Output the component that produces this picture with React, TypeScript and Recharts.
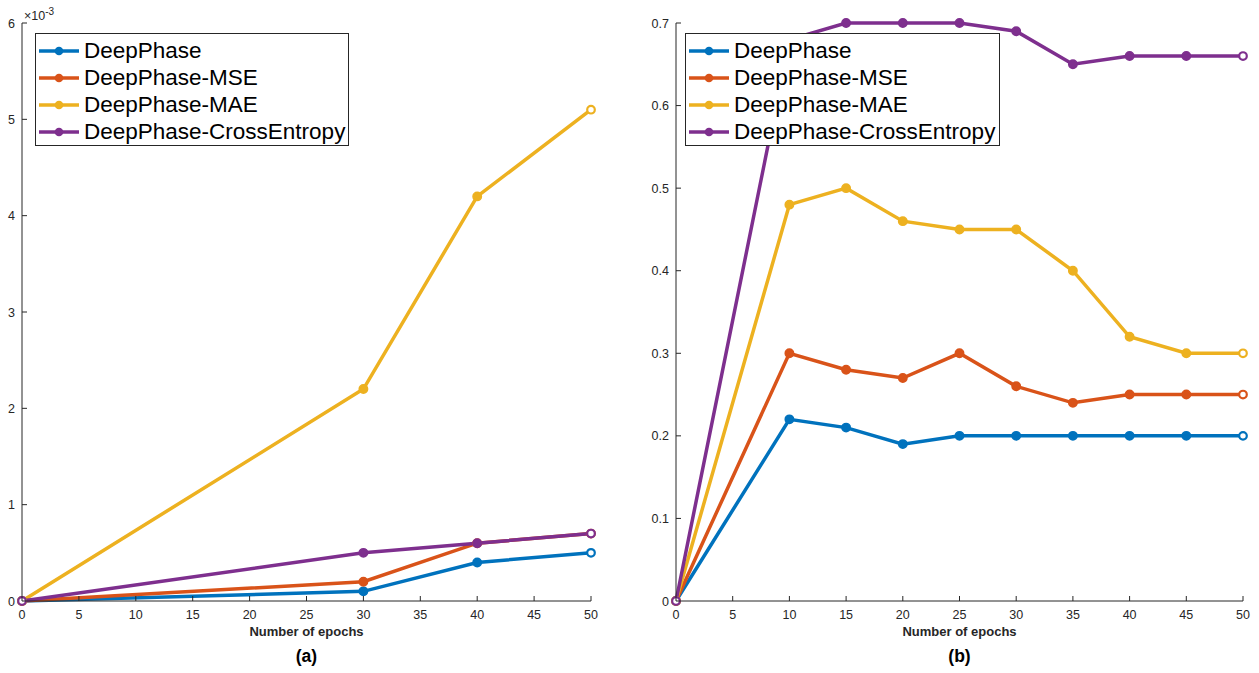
import { Legend, Line, LineChart, XAxis, YAxis } from "recharts"

const seriesNames = ["DeepPhase", "DeepPhase-MSE", "DeepPhase-MAE", "DeepPhase-CrossEntropy"]
const colors = ["#0072BD", "#D95319", "#EDB120", "#7E2F8E"]

// panel (a)
const epochsA = [0, 30, 40, 50]
const deepPhaseA = [0, 0.0001, 0.0004, 0.0005]
const mseA = [0, 0.0002, 0.0006, 0.0007]
const maeA = [0, 0.0022, 0.0042, 0.0051]
const crossEntropyA = [0, 0.0005, 0.0006, 0.0007]

// panel (b)
const epochsB = [0, 10, 15, 20, 25, 30, 35, 40, 45, 50]
const deepPhaseB = [0, 0.22, 0.21, 0.19, 0.2, 0.2, 0.2, 0.2, 0.2, 0.2]
const mseB = [0, 0.3, 0.28, 0.27, 0.3, 0.26, 0.24, 0.25, 0.25, 0.25]
const maeB = [0, 0.48, 0.5, 0.46, 0.45, 0.45, 0.4, 0.32, 0.3, 0.3]
const crossEntropyB = [0, 0.68, 0.7, 0.7, 0.7, 0.69, 0.65, 0.66, 0.66, 0.66]

const xTicks = [0, 5, 10, 15, 20, 25, 30, 35, 40, 45, 50]
const yTicksA = [0, 0.001, 0.002, 0.003, 0.004, 0.005, 0.006]
const yTicksB = [0, 0.1, 0.2, 0.3, 0.4, 0.5, 0.6, 0.7]

const font = '"Liberation Sans", Arial, sans-serif'
const axisColor = "#262626"
const tickLen = 5

const buildRows = (epochs: number[], series: number[][]) =>
  epochs.map((e, i) => {
    const row: Record<string, number> = { epoch: e }
    series.forEach((s, k) => (row["s" + k] = s[i]))
    return row
  })

const dataA = buildRows(epochsA, [deepPhaseA, mseA, maeA, crossEntropyA])
const dataB = buildRows(epochsB, [deepPhaseB, mseB, maeB, crossEntropyB])

const makeTick =
  (side: "bottom" | "top" | "left" | "right", fmt?: (v: number) => string) =>
  (props: any) => {
    const { x, y, payload } = props
    if (side === "bottom")
      return (
        <g>
          <line x1={x} y1={y} x2={x} y2={y - tickLen} stroke={axisColor} />
          <text x={x} y={y + 18} textAnchor="middle" fontSize={12.5} fontFamily={font} fill={axisColor}>
            {fmt ? fmt(payload.value) : payload.value}
          </text>
        </g>
      )
    if (side === "top") return <line x1={x} y1={y} x2={x} y2={y + tickLen} stroke={axisColor} />
    if (side === "left")
      return (
        <g>
          <line x1={x} y1={y} x2={x + tickLen} y2={y} stroke={axisColor} />
          <text x={x - 7} y={y + 4.5} textAnchor="end" fontSize={12.5} fontFamily={font} fill={axisColor}>
            {fmt ? fmt(payload.value) : payload.value}
          </text>
        </g>
      )
    return <line x1={x} y1={y} x2={x - tickLen} y2={y} stroke={axisColor} />
  }

const makeDot = (color: string, last: number) => (props: any) => {
  const { cx, cy, index } = props
  const hollow = index === 0 || index === last
  return (
    <circle
      key={`dot-${index}`}
      cx={cx}
      cy={cy}
      r={hollow ? 3.8 : 4.2}
      fill={hollow ? "#fff" : color}
      stroke={color}
      strokeWidth={hollow ? 2.2 : 1.5}
    />
  )
}

function LegendBox({ width }: { width: number }) {
  return (
    <div
      style={{
        boxSizing: "border-box",
        width,
        background: "#fff",
        border: `1px solid ${axisColor}`,
        padding: "3px 0 0 2px",
        fontFamily: font,
        fontSize: 22.5,
        color: "#000",
      }}
    >
      {seriesNames.map((n, i) => (
        <div key={n} style={{ display: "flex", alignItems: "center", height: 27, whiteSpace: "nowrap" }}>
          <svg width={42} height={12} style={{ flex: "none" }}>
            <line x1={1} y1={6} x2={41} y2={6} stroke={colors[i]} strokeWidth={3.5} />
            <circle cx={21} cy={6} r={4.3} fill={colors[i]} />
          </svg>
          <span style={{ marginLeft: 4, lineHeight: "27px" }}>{n}</span>
        </div>
      ))}
    </div>
  )
}

type PanelProps = {
  left: number
  width: number
  yAxisWidth: number
  marginRight: number
  data: Record<string, number>[]
  yTicks: number[]
  yMax: number
  yFmt: (v: number) => string
  caption: string
  legendLeft: number
  legendWidth: number
  children?: any
}

function Panel(p: PanelProps) {
  const last = p.data.length - 1
  const plotLeft = p.yAxisWidth
  const plotRight = p.width - p.marginRight
  const center = (plotLeft + plotRight) / 2
  return (
    <div style={{ position: "absolute", left: p.left, top: 0, width: p.width, height: 673 }}>
      <LineChart width={p.width} height={673} data={p.data} margin={{ top: 23, right: p.marginRight, bottom: 0, left: 0 }}>
        <XAxis
          xAxisId="bottom"
          dataKey="epoch"
          type="number"
          domain={[0, 50]}
          ticks={xTicks}
          interval={0}
          height={72}
          tickSize={0}
          tickMargin={0}
          tickLine={false}
          axisLine={{ stroke: axisColor }}
          tick={makeTick("bottom")}
        />
        <XAxis
          xAxisId="top"
          orientation="top"
          dataKey="epoch"
          type="number"
          domain={[0, 50]}
          ticks={xTicks}
          interval={0}
          height={0}
          tickSize={0}
          tickMargin={0}
          tickLine={false}
          axisLine={{ stroke: axisColor }}
          tick={makeTick("top")}
        />
        <YAxis
          yAxisId="left"
          type="number"
          domain={[0, p.yMax]}
          ticks={p.yTicks}
          interval={0}
          width={p.yAxisWidth}
          tickSize={0}
          tickMargin={0}
          tickLine={false}
          axisLine={{ stroke: axisColor }}
          tick={makeTick("left", p.yFmt)}
        />
        <YAxis
          yAxisId="right"
          orientation="right"
          type="number"
          domain={[0, p.yMax]}
          ticks={p.yTicks}
          interval={0}
          width={0}
          tickSize={0}
          tickMargin={0}
          tickLine={false}
          axisLine={{ stroke: axisColor }}
          tick={makeTick("right")}
        />
        {colors.map((c, k) => (
          <Line
            key={k}
            xAxisId="bottom"
            yAxisId="left"
            dataKey={"s" + k}
            name={seriesNames[k]}
            stroke={c}
            strokeWidth={3.5}
            dot={makeDot(c, last)}
            activeDot={false}
            isAnimationActive={false}
          />
        ))}
        <Legend
          layout="vertical"
          align="center"
          verticalAlign="middle"
          wrapperStyle={{ left: p.legendLeft, top: 33, width: p.legendWidth }}
          content={() => <LegendBox width={p.legendWidth} />}
        />
      </LineChart>
      <div
        style={{
          position: "absolute",
          left: center - 100,
          width: 200,
          top: 624,
          textAlign: "center",
          fontFamily: font,
          fontWeight: "bold",
          fontSize: 13,
          color: axisColor,
        }}
      >
        Number of epochs
      </div>
      <div
        style={{
          position: "absolute",
          left: center - 50,
          width: 100,
          top: 646,
          textAlign: "center",
          fontFamily: font,
          fontWeight: "bold",
          fontSize: 17.5,
          color: "#000",
        }}
      >
        {p.caption}
      </div>
      {p.children}
    </div>
  )
}

export default function App() {
  return (
    <div style={{ position: "absolute", left: 0, top: 0, width: 1259, height: 673, background: "#fff" }}>
      <Panel
        left={0}
        width={620}
        yAxisWidth={22}
        marginRight={29}
        data={dataA}
        yTicks={yTicksA}
        yMax={0.006}
        yFmt={(v) => String(Math.round(v * 1000))}
        caption="(a)"
        legendLeft={35}
        legendWidth={314}
      >
        <div
          style={{
            position: "absolute",
            left: 24,
            top: 6,
            fontFamily: font,
            fontSize: 12.5,
            color: axisColor,
            whiteSpace: "nowrap",
          }}
        >
          ×10<sup style={{ fontSize: 10 }}>-3</sup>
        </div>
      </Panel>
      <Panel
        left={640}
        width={619}
        yAxisWidth={36}
        marginRight={16}
        data={dataB}
        yTicks={yTicksB}
        yMax={0.7}
        yFmt={(v) => String(Math.round(v * 10) / 10)}
        caption="(b)"
        legendLeft={45}
        legendWidth={315}
      />
    </div>
  )
}
